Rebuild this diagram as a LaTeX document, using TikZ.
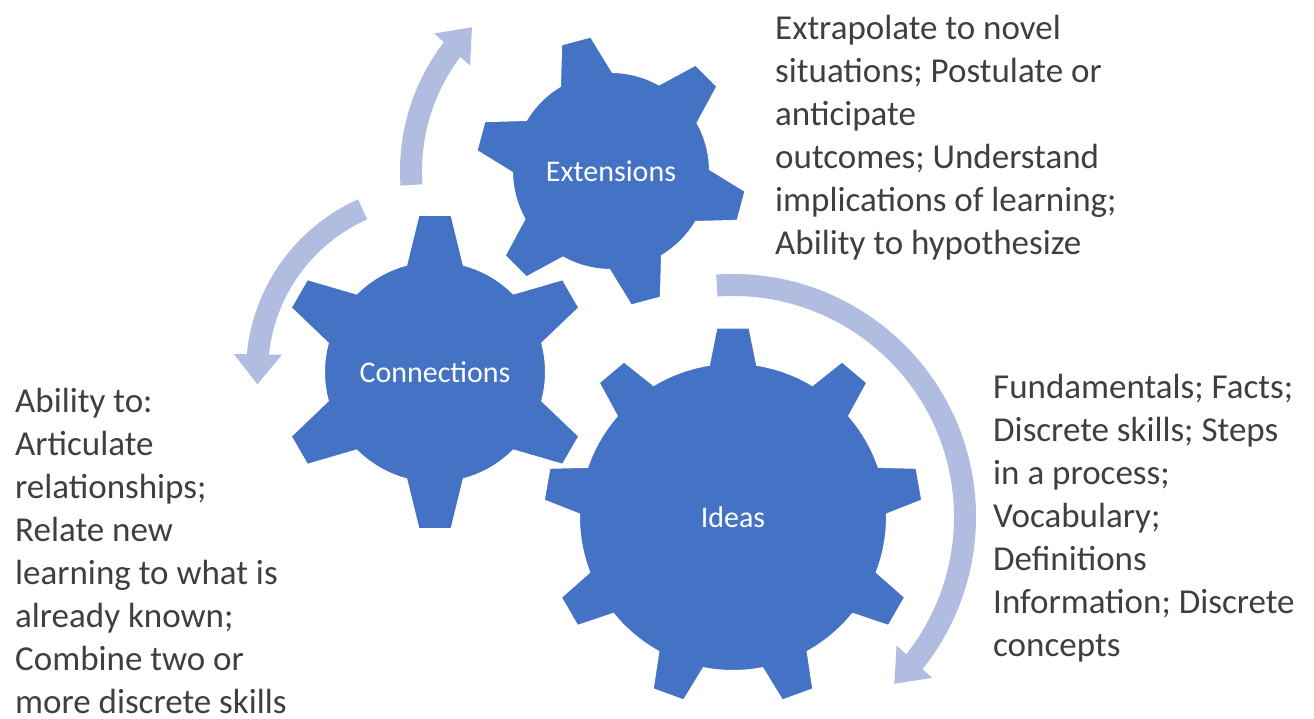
\documentclass[tikz,border=0pt]{standalone}
\usepackage{fontspec}
\setmainfont{Carlito}
\usetikzlibrary{arrows.meta, bending}

\definecolor{gearblue}{HTML}{4472C4}
\definecolor{arrowblue}{HTML}{B0BCE0}
\definecolor{notegray}{HTML}{3F3F3F}

% teeth, tip radius, root radius, tip half angle, base half angle, first tooth angle
\newcommand{\gearpath}[6]{%
  ({#6-#5}:#3)
  \foreach \k in {1,...,#1}{
    -- ({#6+(\k-1)*360/#1-#4}:#2)
    -- ({#6+(\k-1)*360/#1+#4}:#2)
    -- ({#6+(\k-1)*360/#1+#5}:#3)
    arc[start angle={#6+(\k-1)*360/#1+#5}, end angle={#6+\k*360/#1-#5}, radius=#3]
  } -- cycle}

\tikzset{
  gearfill/.style={fill=gearblue, draw=white, line width=2pt},
  gearlabel/.style={text=white, inner sep=0pt, font=\fontsize{30}{36}\selectfont},
  cyclearrow/.style={draw=arrowblue, line width=22pt, -{Triangle[width=46pt,length=30pt]}},
  notes/.style={anchor=north west, align=left, inner sep=0pt, text=notegray, font=\fontsize{35}{43}\selectfont}
}

\begin{document}
\begin{tikzpicture}[x=1pt,y=1pt]
\useasboundingbox (0,0) rectangle (1314,718);

\coordinate (extc) at (611,547);
\coordinate (connc) at (435,346);
\coordinate (ideasc) at (733,201);

% gears
\fill[gearfill, shift={(extc)}] \gearpath{6}{136}{99}{6.5}{16}{45};
\fill[gearfill, shift={(connc)}] \gearpath{6}{158}{111}{6}{15}{30};
\fill[gearfill, shift={(ideasc)}] \gearpath{9}{190}{154}{5}{9}{10};

\node[gearlabel] (ext) at (extc) {Extensions};
\node[gearlabel] (conn) at (connc) {Connections};
\node[gearlabel] (ideas) at (ideasc) {Ideas};

% arrows round the gears
\draw[cyclearrow] ([shift={(184:200)}]ext.center) arc[start angle=184, end angle=134, radius=200];
\draw[cyclearrow] ([shift={(114:178)}]conn.center) arc[start angle=114, end angle=184, radius=178];
\draw[cyclearrow] ([shift={(94:232)}]ideas.center) arc[start angle=94, end angle=-46, radius=232];

% descriptions
\node[notes] (extnote) at (775,703) {Extrapolate to novel\\situations; Postulate or\\anticipate\\outcomes; Understand\\implications of learning;\\Ability to hypothesize};
\node[notes] (ideasnote) at (993,344) {Fundamentals; Facts;\\Discrete skills; Steps\\in a process;\\Vocabulary;\\Definitions\\Information; Discrete\\concepts};
\node[notes] (connnote) at (15,330) {Ability to:\\Articulate\\relationships;\\Relate new\\learning to what is\\already known;\\Combine two or\\more discrete skills};
\end{tikzpicture}
\end{document}
